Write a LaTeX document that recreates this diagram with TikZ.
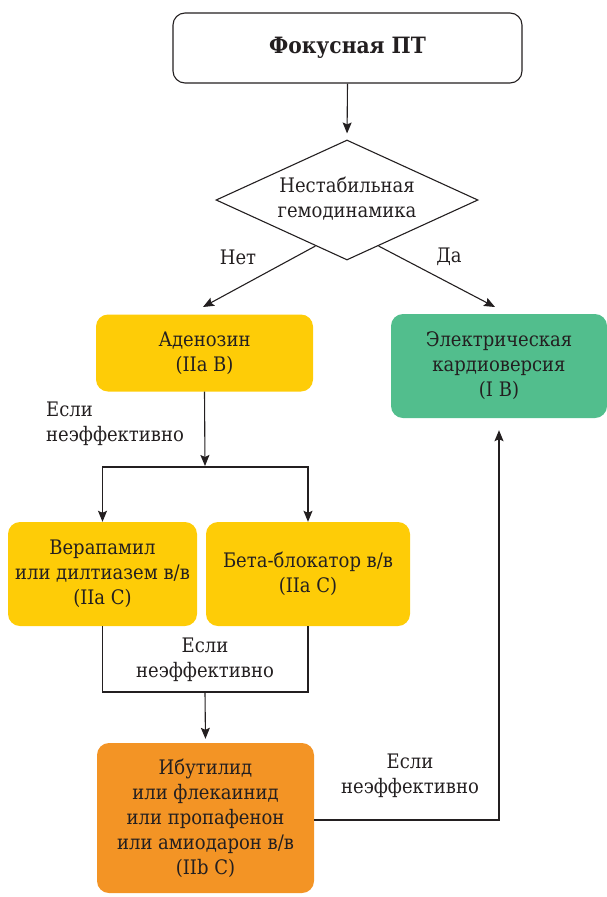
\documentclass[tikz,border=0pt]{standalone}
\usepackage{fontspec}
\setmainfont{DejaVu Serif}
\newfontfamily\serifcond{DejaVu Serif Condensed}
\usetikzlibrary{shapes.geometric,arrows.meta,calc}

\definecolor{ink}{HTML}{231F20}
\definecolor{boxyellow}{HTML}{FECC07}
\definecolor{boxgreen}{HTML}{52BE8D}
\definecolor{boxorange}{HTML}{F39425}

\tikzset{
  txt/.style={text=ink, align=center, font=\serifcond\fontsize{20}{25}\selectfont, inner sep=0pt},
  box/.style={txt, rounded corners=12pt, minimum width=#1, inner sep=0pt},
  conn/.style={draw=ink, line width=1.1pt},
  arr/.style={conn, -{Stealth[length=11pt, width=9pt, inset=2pt]}},
}

\begin{document}
\begin{tikzpicture}[x=1pt, y=-1pt]
  \useasboundingbox (0,0) rectangle (607,897);

  % start
  \node[box=349, minimum height=70, draw=ink, line width=1.1pt,
        font=\serifcond\fontsize{22.5}{30}\selectfont\bfseries] (start) at (347.5,48) {Фокусная ПТ};

  % decision
  \node[diamond, draw=ink, line width=1.1pt, minimum width=262, minimum height=120,
        inner sep=0pt] (dia) at (347,200) {};
  \node[txt] (diatxt) at (347,199) {Нестабильная\\гемодинамика};

  % treatment boxes
  \node[box=217, minimum height=77, fill=boxyellow] (aden) at (204.5,353) {Аденозин\\(IIa B)};
  \node[box=216, minimum height=104, fill=boxgreen] (cardio) at (499,366) {Электрическая\\кардиоверсия\\(I B)};
  \node[box=189, minimum height=104, fill=boxyellow] (vera) at (102.5,574) {Верапамил\\или дилтиазем в/в\\(IIa C)};
  \node[box=204, minimum height=104, fill=boxyellow] (beta) at (308,574) {Бета-блокатор в/в\\(IIa C)};
  \node[box=217, minimum height=150, fill=boxorange] (ibut) at (205.5,818)
       {Ибутилид\\или флекаинид\\или пропафенон\\или амиодарон в/в\\(IIb C)};

  % branching points
  \coordinate (fork) at (205,467);
  \coordinate (join) at (205,692);
  \coordinate (dl) at ($(dia.west)!0.76!(dia.south)$);
  \coordinate (dr) at ($(dia.east)!0.76!(dia.south)$);

  % connectors
  \draw[arr, shorten >=6pt] (start.south) -- (dia.north);
  \draw[arr] (dl) -- (203,307) coordinate (noend);
  \draw[arr] (dr) -- (495,307) coordinate (yesend);
  \draw[arr, shorten >=1pt] (aden.south) -- (fork);
  \draw[arr] (fork) -| (vera.north);
  \draw[arr] (fork) -| (beta.north);
  \draw[conn] (vera.south) |- (join) -| (beta.south);
  \draw[arr, shorten >=4pt] (join) -- (ibut.north);
  \draw[arr, shorten >=12pt] ([yshift=-2pt]ibut.east) -| (cardio.south);

  % labels
  \node[txt] (lno) at (238,257) {Нет};
  \node[txt] (lyes) at (449,257) {Да};
  \node[txt, align=left, anchor=west] (l1) at (46,424) {Если\\неэффективно};
  \node[txt] (l2) at (205,660) {Если\\неэффективно};
  \node[txt] (l3) at (410,776) {Если\\неэффективно};
\end{tikzpicture}
\end{document}
